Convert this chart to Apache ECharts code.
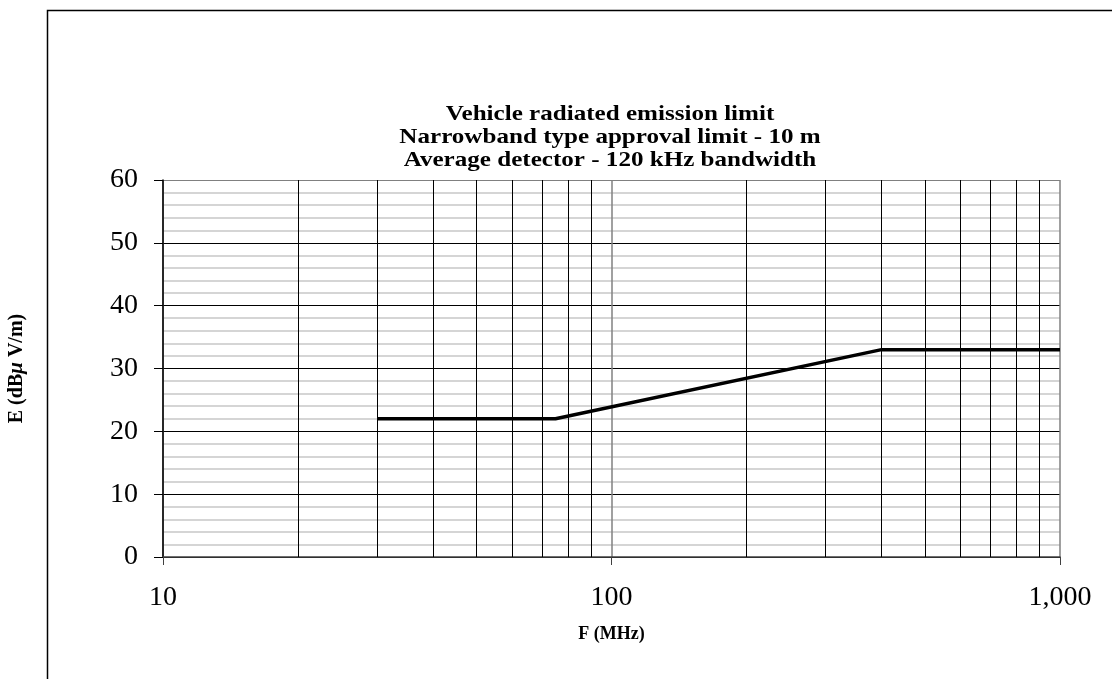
<!DOCTYPE html>
<html><head><meta charset="utf-8">
<script src="https://cdn.jsdelivr.net/npm/echarts@6/dist/echarts.min.js"></script>
<style>html,body{margin:0;padding:0;background:#fff}#c{width:1112px;height:679px}</style>
</head><body><div id="c"></div>
<script>
const titleLines = ['Vehicle radiated emission limit','Narrowband type approval limit - 10 m','Average detector - 120 kHz bandwidth'];
const freqMHz = [30, 75, 400, 1000];
const limitDb = [22, 22, 33, 33];
const minorFreqs = [20,30,40,50,60,70,80,90,200,300,400,500,600,700,800,900];
const xName = 'F (MHz)';
const F = 'Liberation Serif, Times New Roman, serif';
const chart = echarts.init(document.getElementById('c'));
chart.setOption({
  animation:false,
  backgroundColor:'#fff',
  graphic:[{type:'rect',left:45,top:8,shape:{width:1200,height:900},style:{fill:'none',stroke:'#000',lineWidth:1.5},silent:true},
    {type:'text',x:610,y:137,scaleX:1.14,silent:true,
      style:{text:titleLines.join('\n'),align:'center',verticalAlign:'middle',
        font:'bold 22px '+F,lineHeight:23,fill:'#000'}}],
  grid:{left:163,right:52,top:180,bottom:122,outerBoundsMode:'none',containLabel:false},
  xAxis:{type:'log',logBase:10,min:10,max:1000,
    name:xName,nameLocation:'middle',nameGap:68,
    nameTextStyle:{fontFamily:F,fontWeight:'bold',fontSize:18,color:'#000'},
    axisLine:{show:true,onZero:false,lineStyle:{color:'#404040',width:1.5}},
    axisTick:{show:true,length:8,lineStyle:{color:'#404040'}},
    axisLabel:{margin:27,fontFamily:F,fontSize:28,color:'#000',
      formatter:v=>v>=1000?v.toLocaleString('en-US'):String(v)},
    splitLine:{show:true,lineStyle:{color:'#808080',width:1.5}},
    minorTick:{show:false},minorSplitLine:{show:false}},
  yAxis:{type:'value',min:0,max:60,interval:10,
    name:'{a|E (dB}{b|μ}{a| V/m)}',nameLocation:'middle',nameGap:136,nameRotate:90,
    nameTextStyle:{rich:{a:{fontFamily:F,fontWeight:'bold',fontSize:20,color:'#000'},
      b:{fontFamily:F,fontWeight:'bold',fontStyle:'italic',fontSize:21,color:'#000'}}},
    axisLine:{show:true,lineStyle:{color:'#000',width:1.5}},
    axisTick:{show:true,inside:false,length:9,lineStyle:{color:'#000'}},
    axisLabel:{margin:25,fontFamily:F,fontSize:28,color:'#000'},
    splitLine:{show:true,lineStyle:{color:['#000','#000','#000','#000','#000','#000','#808080'],width:1.2}},
    minorTick:{show:false,splitNumber:5},
    minorSplitLine:{show:true,lineStyle:{color:'#c8c8c8',width:1.5}}},
  series:[{type:'line',data:freqMHz.map((f,i)=>[f,limitDb[i]]),symbol:'none',
    lineStyle:{color:'#000',width:3.5},z:5,
    markLine:{silent:true,symbol:['none','none'],label:{show:false},
      lineStyle:{color:'#000',width:1,type:'solid'},
      data:minorFreqs.map(f=>({xAxis:f})),z:2}}]
});
</script></body></html>
